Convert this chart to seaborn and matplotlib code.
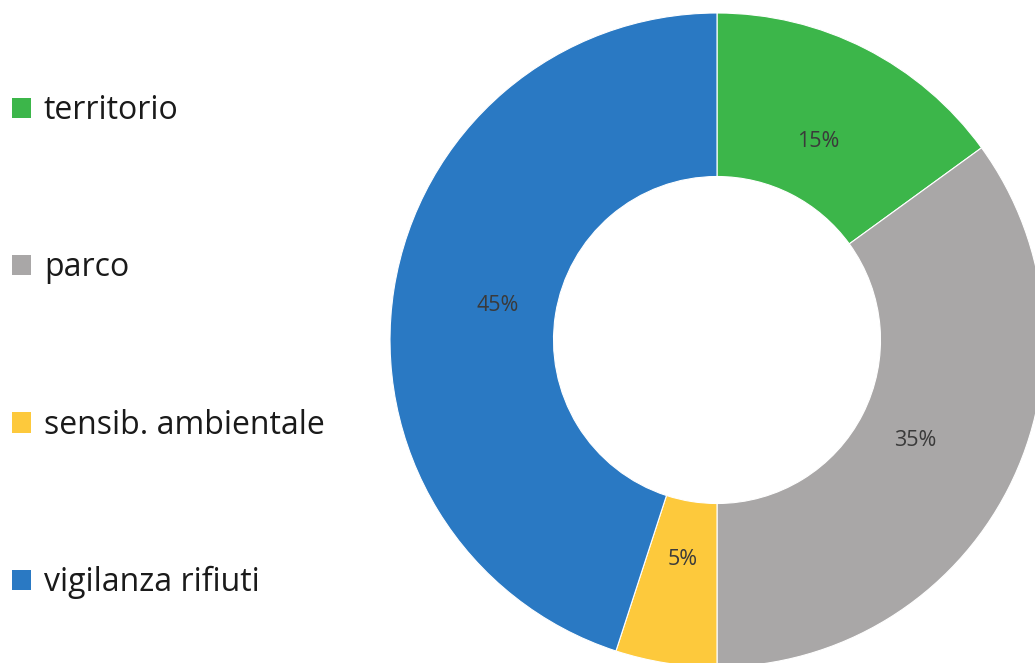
import matplotlib
matplotlib.use("Agg")
import matplotlib.pyplot as plt
import seaborn as sns

categories = ["territorio", "parco", "sensib. ambientale", "vigilanza rifiuti"]
values = [15, 35, 5, 45]
colors = ["#3cb64a", "#a9a7a7", "#fdc93c", "#2a79c3"]

sns.set_theme(style="white")
plt.rcParams["font.family"] = ["Open Sans", "DejaVu Sans"]

W, H = 1035, 663
fig = plt.figure(figsize=(W / 100, H / 100), dpi=100)
ax = fig.add_axes([0, 0, 1, 1])

palette = sns.color_palette(colors)
R = 327
wedges, texts, autotexts = ax.pie(
    values,
    colors=palette,
    startangle=90,
    counterclock=False,
    center=(717, H - 340),
    radius=R,
    frame=True,
    autopct=lambda p: f"{p:.0f}%",
    pctdistance=0.68,
    wedgeprops=dict(width=R * 0.5, edgecolor="white", linewidth=0.8),
    textprops=dict(fontsize=15.5, color="#3a3a3a"),
)
ax.set_xlim(0, W)
ax.set_ylim(0, H)
ax.set_aspect("equal")
ax.axis("off")

leg = fig.legend(
    wedges,
    categories,
    loc="upper left",
    bbox_to_anchor=(12 / W, 0.858),
    frameon=False,
    fontsize=23,
    borderpad=0,
    borderaxespad=0,
    handlelength=0.6,
    handleheight=0.6,
    handletextpad=0.4,
    labelspacing=3.89,
    labelcolor="#1a1a1a",
)
for h in leg.legend_handles:
    h.set_edgecolor("none")

fig.savefig("out.png", dpi=100)
